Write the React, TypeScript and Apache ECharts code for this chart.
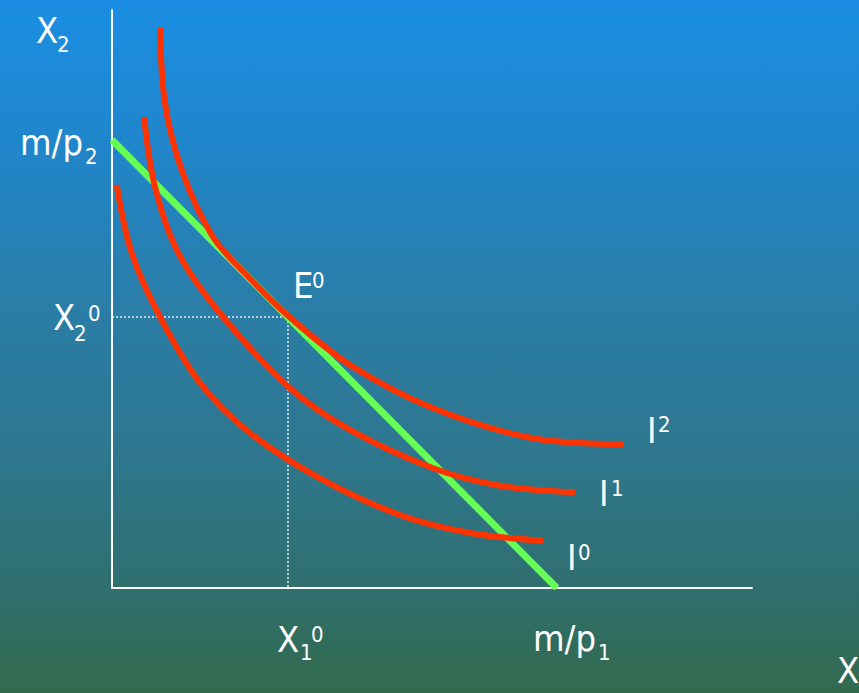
import React, { useEffect, useRef } from "react";
import * as echarts from "echarts";

// Budget line (x-intercept m/p1, y-intercept m/p2)
const budgetLine: [number, number][] = [[0, 7.75], [6.95, 0]];
// Equilibrium E0
const equilibrium: [number, number] = [2.75, 4.69];

// Indifference curves [x, y]
const curveI2: [number, number][] = [
  [0.75, 9.689], [0.828, 8.391], [1.089, 7.232], [1.578, 6.073], [2.156, 5.355],
  [2.755, 4.706], [3.719, 3.858], [5.02, 3.109], [6.583, 2.59], [7.989, 2.486],
];
const curveI1: [number, number][] = [
  [0.5, 8.149], [0.672, 6.938], [1.036, 5.796], [1.6875, 4.753], [2.755, 3.483],
  [3.719, 2.734], [5.02, 2.071], [6.063, 1.77], [7.234, 1.656],
];
const curveI0: [number, number][] = [
  [0.073, 6.972], [0.308, 5.796], [0.75, 4.689], [1.375, 3.547], [2.156, 2.682],
  [3.25, 1.896], [4.5, 1.263], [5.594, 0.952], [6.739, 0.818],
];

const FONT = "'Liberation Sans Narrow', 'DejaVu Sans Condensed', 'Liberation Sans', sans-serif";
const MAIN = 36;
const SMALL = 22;

type Lbl = { text: string; x: number; y: number; size: number };
const labels: Lbl[] = [
  { text: "X", x: 36, y: 30.5, size: MAIN },
  { text: "2", x: 57, y: 44.5, size: SMALL },
  { text: "m/p", x: 20, y: 142, size: MAIN },
  { text: "2", x: 85, y: 156, size: SMALL },
  { text: "X", x: 53, y: 317, size: MAIN },
  { text: "2", x: 74, y: 333, size: SMALL },
  { text: "0", x: 88, y: 313, size: SMALL },
  { text: "E", x: 293, y: 285, size: MAIN },
  { text: "0", x: 312, y: 280.5, size: SMALL },
  { text: "X", x: 277, y: 639, size: MAIN },
  { text: "1", x: 300, y: 652, size: SMALL },
  { text: "0", x: 311, y: 634.5, size: SMALL },
  { text: "m/p", x: 533, y: 638, size: MAIN },
  { text: "1", x: 598, y: 652, size: SMALL },
  { text: "X", x: 837, y: 670, size: MAIN },
  { text: "I", x: 647, y: 430, size: MAIN },
  { text: "2", x: 658, y: 424, size: SMALL },
  { text: "I", x: 599, y: 493.5, size: MAIN },
  { text: "1", x: 611, y: 488.5, size: SMALL },
  { text: "I", x: 567, y: 557.5, size: MAIN },
  { text: "0", x: 578, y: 552.5, size: SMALL },
];

export default function App() {
  const ref = useRef<HTMLDivElement>(null);
  useEffect(() => {
    if (!ref.current) return;
    const chart = echarts.init(ref.current, undefined, { renderer: "svg" });
    const red = "#FF3300";
    const curveSeries = (data: [number, number][]) => ({
      type: "line",
      data,
      smooth: 0.34,
      showSymbol: false,
      symbol: "none",
      lineStyle: { color: red, width: 6, cap: "butt" },
      z: 4,
    });
    chart.setOption({
      animation: false,
      backgroundColor: {
        type: "linear",
        x: 0, y: 0, x2: 0, y2: 1,
        colorStops: [
          { offset: 0, color: "#1A8EE3" },
          { offset: 0.2, color: "#2086CC" },
          { offset: 0.45, color: "#2A7DA6" },
          { offset: 0.65, color: "#2E778F" },
          { offset: 0.85, color: "#2F6F6E" },
          { offset: 1, color: "#326A4C" },
        ],
      },
      grid: { left: 112, top: 10, width: 640, height: 578 },
      xAxis: {
        type: "value", min: 0, max: 10,
        axisLine: { show: true, lineStyle: { color: "#FFFFFF", width: 2 } },
        axisTick: { show: false }, axisLabel: { show: false }, splitLine: { show: false },
      },
      yAxis: {
        type: "value", min: 0, max: 10,
        axisLine: { show: true, lineStyle: { color: "#FFFFFF", width: 2 } },
        axisTick: { show: false }, axisLabel: { show: false }, splitLine: { show: false },
      },
      series: [
        {
          type: "line",
          data: [[0, equilibrium[1]], [equilibrium[0], equilibrium[1]], [equilibrium[0], 0]],
          showSymbol: false, symbol: "none",
          lineStyle: { color: "#E6F0F0", width: 1.5, type: [2, 2] },
          z: 2,
        },
        {
          type: "line",
          data: budgetLine,
          showSymbol: false, symbol: "none",
          lineStyle: { color: "#66FF55", width: 7, cap: "butt" },
          z: 3,
        },
        curveSeries(curveI2),
        curveSeries(curveI1),
        curveSeries(curveI0),
      ],
      graphic: labels.map((l) => ({
        type: "text",
        x: l.x,
        y: l.y,
        z: 10,
        style: {
          text: l.text,
          fill: "#FFFFFF",
          font: `${l.size}px ${FONT}`,
          fontSize: l.size,
          fontFamily: FONT,
          align: "left",
          verticalAlign: "middle",
        },
      })),
    });
    return () => chart.dispose();
  }, []);
  return (
    <div
      ref={ref}
      style={{ position: "fixed", left: 0, top: 0, width: 859, height: 693 }}
    />
  );
}
